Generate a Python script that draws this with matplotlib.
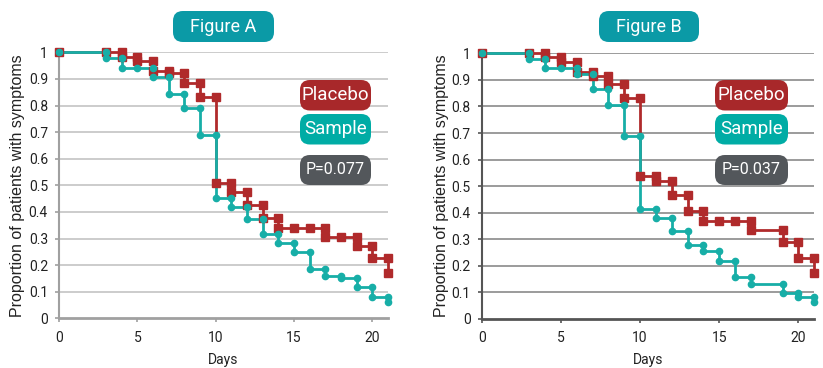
import matplotlib.pyplot as plt
from matplotlib.patches import FancyBboxPatch

# event days and proportion after each day (Figure A)
a_placebo_days = [0, 3, 4, 5, 6, 7, 8, 9, 10, 11, 12, 13, 14, 15, 16, 17, 18, 19, 20, 21]
a_placebo_vals = [1.0, 1.0, 0.984, 0.967, 0.93, 0.921, 0.883, 0.833, 0.51, 0.474, 0.426,
                  0.376, 0.338, 0.338, 0.338, 0.307, 0.307, 0.272, 0.226, 0.172]
a_sample_days = [0, 3, 4, 5, 6, 7, 8, 9, 10, 11, 12, 13, 14, 15, 16, 17, 18, 19, 20, 21]
a_sample_vals = [1.0, 0.977, 0.942, 0.942, 0.908, 0.842, 0.792, 0.689, 0.454, 0.42, 0.372,
                 0.316, 0.284, 0.251, 0.184, 0.16, 0.152, 0.119, 0.081, 0.063]

# Figure B
b_placebo_days = [0, 3, 4, 5, 6, 7, 8, 9, 10, 11, 12, 13, 14, 15, 16, 17, 19, 20, 21]
b_placebo_vals = [1.0, 1.0, 0.985, 0.966, 0.929, 0.916, 0.885, 0.832, 0.54, 0.519, 0.467,
                  0.408, 0.369, 0.369, 0.369, 0.335, 0.291, 0.231, 0.174]
b_sample_days = [0, 3, 4, 5, 6, 7, 8, 9, 10, 11, 12, 13, 14, 15, 16, 17, 19, 20, 21]
b_sample_vals = [1.0, 0.978, 0.944, 0.944, 0.922, 0.866, 0.805, 0.69, 0.414, 0.379, 0.332,
                 0.279, 0.257, 0.218, 0.157, 0.132, 0.097, 0.084, 0.065]

p_values = ["P=0.077", "P=0.037"]
titles = ["Figure A", "Figure B"]
yticks = [0, 0.1, 0.2, 0.3, 0.4, 0.5, 0.6, 0.7, 0.8, 0.9, 1.0]
ytick_labels = ["0", "0.1", "0.2", "0.3", "0.4", "0.5", "0.6", "0.7", "0.8", "0.9", "1"]
xticks = [0, 5, 10, 15, 20]

RED = "#b02a2b"
TEAL = "#17aea7"
NARROW = ["Roboto", "DejaVu Sans"]

fig = plt.figure(figsize=(8.23, 3.68), dpi=100)


def draw_curve(ax, days, vals, color, marker, ms):
    ax.step(days, vals, where="post", color=color, lw=2.0, clip_on=False, zorder=3)
    mx, my = [], []
    prev = vals[0]
    for d, v in zip(days, vals):
        mx.append(d)
        my.append(prev)
        if v != prev:
            mx.append(d)
            my.append(v)
        prev = v
    ax.plot(mx, my, ls="none", marker=marker, ms=ms, color=color, clip_on=False, zorder=4)


def px_box(x0, y0, x1, y1, color, text, size):
    W, H = 823, 368
    box = FancyBboxPatch((x0 / W, 1 - y1 / H), (x1 - x0) / W, (y1 - y0) / H,
                         boxstyle="round,pad=0,rounding_size=0.012",
                         transform=fig.transFigure, fc=color, ec="none",
                         mutation_aspect=W / H, zorder=10)
    fig.patches.append(box)
    fig.text((x0 + x1) / 2 / W, 1 - (y0 + y1) / 2 / H, text, color="white",
             ha="center", va="center", fontsize=size, family=NARROW, zorder=11)


panels = [
    dict(rect=[59 / 823, (368 - 318.3) / 368, 329 / 823, 266 / 368],
         pl=(a_placebo_days, a_placebo_vals), sa=(a_sample_days, a_sample_vals),
         spine="#a0a0a0", grid="#c4c4c4", title=(173, 274), box=(300, 371), ylx=18),
    dict(rect=[481.7 / 823, (368 - 319) / 368, 332.5 / 823, 265.7 / 368],
         pl=(b_placebo_days, b_placebo_vals), sa=(b_sample_days, b_sample_vals),
         spine="#555555", grid="#8a8a8a", title=(599, 699), box=(715, 788), ylx=442),
]

for i, p in enumerate(panels):
    ax = fig.add_axes(p["rect"])
    ax.set_xlim(0, 21)
    ax.set_ylim(0, 1)
    for s in ["top", "right"]:
        ax.spines[s].set_visible(False)
    ax.spines["left"].set_color(p["spine"])
    ax.spines["bottom"].set_color(p["spine"])
    ax.spines["left"].set_linewidth(1.5)
    ax.spines["bottom"].set_linewidth(2.0)
    ax.set_yticks(yticks)
    ax.set_yticklabels(ytick_labels)
    ax.set_xticks(xticks)
    ax.tick_params(colors=p["spine"], labelcolor="#222222", length=3, width=1.2,
                   labelsize=10)
    for lab in ax.get_xticklabels() + ax.get_yticklabels():
        lab.set_family(NARROW)
    ax.tick_params(axis="x", pad=6)
    ax.tick_params(axis="y", pad=5)
    for y in yticks[1:]:
        ax.axhline(y, color=p["grid"], lw=1.2, zorder=1)
    draw_curve(ax, *p["pl"], RED, "s", 5.5)
    draw_curve(ax, *p["sa"], TEAL, "o", 4.5)
    fig.text(p["rect"][0] + p["rect"][2] / 2, 1 - 360 / 368, "Days", ha="center",
             va="center", fontsize=10, family=NARROW, color="#222222")
    fig.text(p["ylx"] / 823, p["rect"][1] + p["rect"][3] / 2,
             "Proportion of patients with symptoms", rotation=90, ha="center",
             va="center", fontsize=11.5, family=["Liberation Sans", "DejaVu Sans"],
             color="#222222")
    t0, t1 = p["title"]
    px_box(t0, 11, t1, 42, "#0b9aa6", titles[i], 13)
    b0, b1 = p["box"]
    px_box(b0, 80, b1, 110.5, "#a8282a", "Placebo", 13.5)
    px_box(b0, 114, b1, 144.5, "#00aca5", "Sample", 13.5)
    px_box(b0, 155, b1, 185, "#53575b", p_values[i], 11.5)

fig.savefig("out.png", dpi=100)
